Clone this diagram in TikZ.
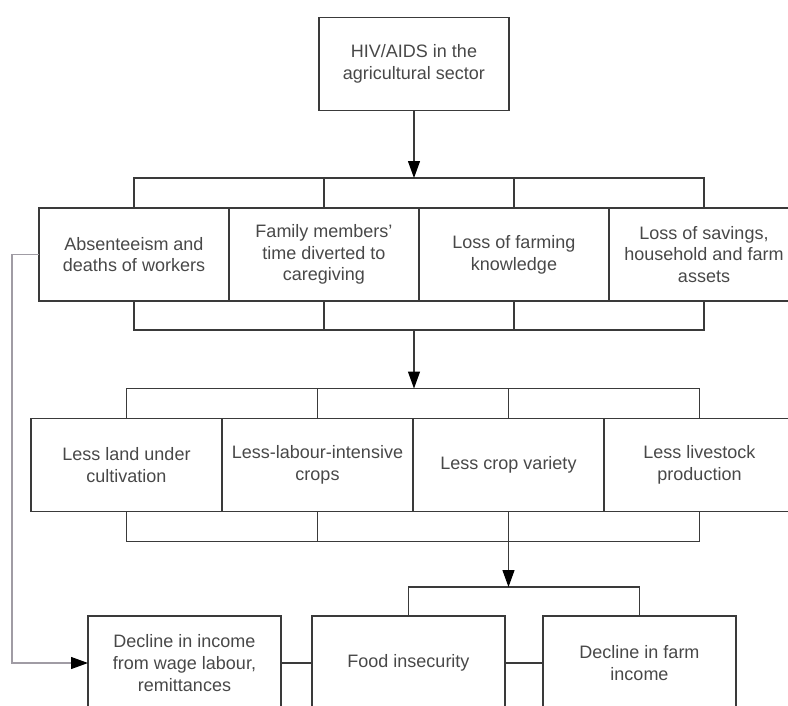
\documentclass[tikz,border=0pt]{standalone}
\usepackage{fontspec}
\setmainfont{Liberation Sans}
\usepackage{tikz}
\usetikzlibrary{arrows.meta,positioning}
\definecolor{Ink}{HTML}{3A3A3A}
\definecolor{Txt}{HTML}{484848}
\definecolor{Back}{HTML}{A09CA4}

\begin{document}
\begin{tikzpicture}[x=1pt,y=-1pt,font=\fontsize{18}{21.7}\selectfont,>={Triangle[length=17pt,width=12pt,color=black]},every node/.style={align=center,text=Txt},
  box/.style={draw=Ink,line width=1.2pt,minimum width=190pt,minimum height=93pt,outer sep=0pt,inner sep=2pt},
  wire/.style={draw=Ink,line width=1.2pt}]
  \useasboundingbox (0,0) rectangle (788,705);
  \node[box] (top) at (414,64) {HIV/AIDS in the\\agricultural sector};
  \node[box] (a1) at (134,254.5) {Absenteeism and\\deaths of workers};
  \node[box,right=0pt of a1] (a2) {Family members'\\time diverted to\\caregiving};
  \node[box,right=0pt of a2] (a3) {Loss of farming\\knowledge};
  \node[box,right=0pt of a3] (a4) {Loss of savings,\\household and farm\\assets};
  \node[box,minimum width=191pt] (b1) at (126.5,465) {Less land under\\cultivation};
  \node[box,minimum width=191pt,right=0pt of b1] (b2) {Less-labour-intensive\\crops};
  \node[box,minimum width=191pt,right=0pt of b2] (b3) {Less crop variety};
  \node[box,minimum width=191pt,right=0pt of b3] (b4) {Less livestock\\production};
  \node[box,minimum width=193pt,minimum height=94pt] (c1) at (184.5,663) {Decline in income\\from wage labour,\\remittances};
  \node[box,minimum width=193pt,minimum height=94pt,right=31pt of c1] (c2) {Food insecurity};
  \node[box,minimum width=193pt,minimum height=94pt,right=38pt of c2] (c3) {Decline in farm\\income};
  \draw[wire] (a1.north) -- ++(0,-30) coordinate (j1) -| (a4.north);
  \draw[wire] (a1.south) -- ++(0,29) coordinate (j2) -| (a4.south);
  \draw[wire] (b1.north) -- ++(0,-30) coordinate (j3) -| (b4.north);
  \draw[wire] (b1.south) -- ++(0,30) coordinate (j4) -| (b4.south);
  \draw[wire] (c2.north) -- ++(0,-29) coordinate (j5) -| (c3.north);
  \foreach \n in {a2,a3} {\draw[wire] (\n.north) -- (\n.north |- j1); \draw[wire] (\n.south) -- (\n.south |- j2);}
  \foreach \n in {b2,b3} {\draw[wire] (\n.north) -- (\n.north |- j3); \draw[wire] (\n.south) -- (\n.south |- j4);}
  \draw[wire,->] (top) -- (top |- j1);
  \draw[wire,->] (top |- j2) -- (top |- j3);
  \draw[wire,->] (b3 |- j4) -- (b3 |- j5);
  \draw[wire] (c1) -- (c2);\draw[wire] (c2) -- (c3);
  \draw[Back,line width=1.2pt,->] (a1.west) -- ++(-27,0) |- (c1.west);
\end{tikzpicture}
\end{document}
